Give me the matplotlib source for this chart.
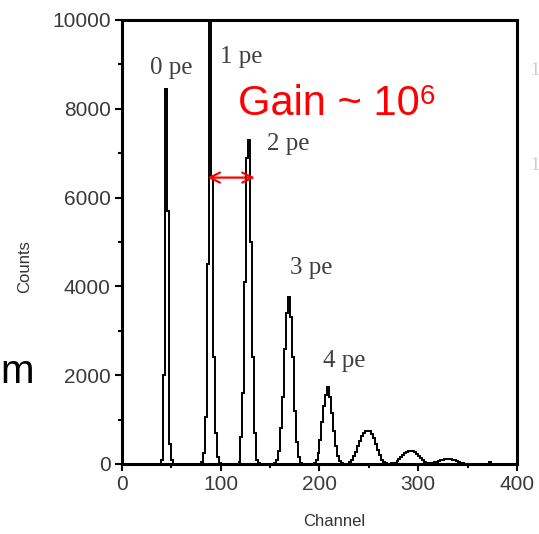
import numpy as np
import matplotlib.pyplot as plt

# Channel histogram, 2-channel bins starting at channel 30
bin_first = 30
bin_width = 2
counts = [
    0, 0, 0, 0, 10,                                   # 30-38
    80, 2000, 8450, 5700, 450, 80, 10,                # 40-52  (0 pe)
    0, 0, 0, 0, 0, 0, 0, 0, 0, 0, 0, 0, 0,            # 54-78
    50, 250, 1050, 4500, 10800, 6450, 2400, 700, 150, 30,   # 80-98  (1 pe)
    0, 0, 0, 0, 0, 0, 0, 0, 0,                        # 100-116
    50, 600, 1600, 4100, 6900, 7300, 5000, 2400, 700, 100, 20,   # 118-138 (2 pe)
    0, 0, 0, 0, 0, 0, 0,                              # 140-152
    30, 80, 300, 800, 1500, 2600, 3400, 3770, 3300, 2400, 1200, 500, 150, 30,  # 154-180 (3 pe)
    0, 0, 0, 0, 0, 0,                                 # 182-192
    20, 80, 250, 550, 950, 1300, 1550, 1740, 1500, 1150, 750, 400, 180, 60, 20, 10, 10,  # 194-226 (4 pe)
    10, 40, 90, 170, 280, 400, 520, 620, 700, 740, 750, 740, 680, 580, 450, 320,
    200, 100, 40, 15, 10, 10, 15,                     # 228-272
    15, 30, 60, 110, 160, 210, 250, 280, 300, 300, 290, 260, 220, 180, 130, 80,
    45, 25, 15,                                       # 274-310
    15, 25, 40, 55, 70, 85, 95, 105, 110, 110, 105, 95, 80, 60, 40, 25, 15, 10,  # 312-346
    10, 10, 10, 5, 5, 5, 5, 5, 5, 5, 5, 5, 50, 5, 5, 5, 5, 0, 0, 0, 0,           # 348-388
]
edges = bin_first + bin_width * np.arange(len(counts) + 1)

peak_labels = ["0 pe", "1 pe", "2 pe", "3 pe", "4 pe"]
label_x = [28.4, 99.2, 146.8, 170, 203.5]
label_y = [8784, 9032, 7072, 4279, 2185]

x_ticks = [0, 100, 200, 300, 400]
y_ticks = [0, 2000, 4000, 6000, 8000, 10000]

plt.rcParams['font.family'] = ['Liberation Sans', 'DejaVu Sans']

fig = plt.figure(figsize=(5.39, 5.34), dpi=100)
ax = fig.add_axes([0.2263, 0.1311, 0.7329, 0.8315])

ax.stairs(counts, edges, color="black", lw=1.4)

ax.set_xlim(0, 400)
ax.set_ylim(0, 10000)
ax.set_xticks(x_ticks)
ax.set_yticks(y_ticks)
ax.set_xticks(np.arange(50, 400, 100), minor=True)
ax.set_yticks(np.arange(1000, 10000, 2000), minor=True)
ax.tick_params(which="major", direction="out", length=5, width=1.5,
               labelsize=15, labelcolor="#3a3a3a", pad=3)
ax.tick_params(which="minor", direction="out", length=3, width=1.5)
for s in ax.spines.values():
    s.set_linewidth(2.2)

fig.text(334 / 539, 1 - 521 / 534, "Channel", ha="center", va="center",
         fontsize=12, color="#333333")
fig.text(25 / 539, 1 - 267 / 534, "Counts", ha="center", va="center",
         rotation=90, fontsize=12, color="#333333")

for txt, x, y in zip(peak_labels, label_x, label_y):
    ax.text(x, y, txt, ha="left", va="baseline", fontsize=18,
            family="Liberation Serif", color="#404040")

# gain annotation with spacing arrow between 1 pe and 2 pe
gain = ax.text(117.5, 7860, "Gain ~ 10", ha="left", va="baseline",
               fontsize=30, color="red")
ax.annotate("6", xy=(1, 1), xycoords=gain, ha="left", va="top",
            fontsize=20, color="red")
ax.annotate("", xy=(86.5, 6450), xytext=(134.5, 6450),
            arrowprops=dict(arrowstyle="<->", color="red", lw=1.6,
                            mutation_scale=18, shrinkA=0, shrinkB=0))

# slide text at the edges
fig.text(0.5 / 539, 1 - 383 / 534, "m", ha="left", va="baseline",
         fontsize=29, color="black")
for yy in [75, 170]:
    fig.text(530 / 539, 1 - yy / 534, "1", ha="left", va="baseline",
             fontsize=13, family="Liberation Serif", color="#cccccc")

fig.savefig("out.png", dpi=100)
